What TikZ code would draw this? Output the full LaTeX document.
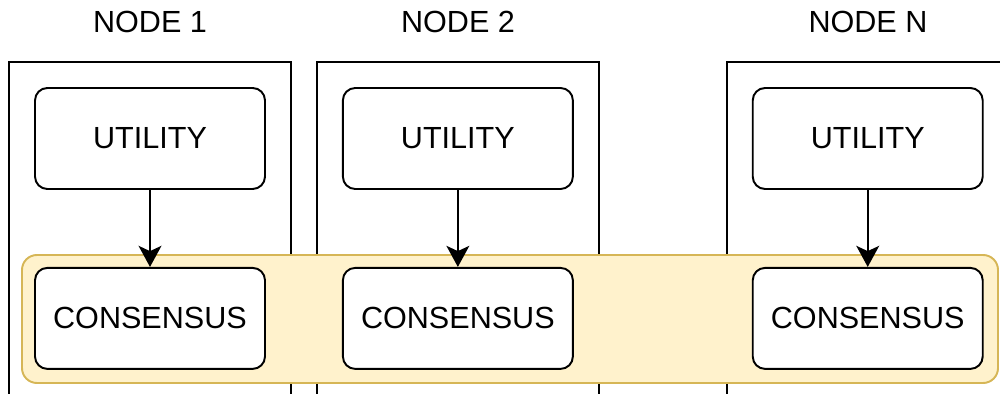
\documentclass[tikz,border=0pt]{standalone}
\usepackage{fontspec}
\setmainfont{Liberation Sans}
\usetikzlibrary{positioning,arrows.meta}

\begin{document}
\begin{tikzpicture}[
        x=0.02cm, y=-0.02cm,
        block/.style={
                rectangle,
                rounded corners=7pt,
                draw=black,
                fill=white,
                line width=1.1pt,
                minimum width=4.6cm,
                minimum height=2.02cm,
                font=\fontsize{17.4}{20}\selectfont
            },
        title/.style = {font=\fontsize{17.4}{20}\selectfont},
        frame/.style = {draw=black, line width=1.1pt},
        band/.style = {draw={rgb,255:red,214;green,182;blue,86}, fill={rgb,255:red,255;green,242;blue,204}, line width=1.1pt, rounded corners=8.5pt},
        >={Stealth[length=12pt,width=13pt,inset=3pt]}
    ]
    \clip (0,0) rectangle (1000,394);

    % node frames, open at the bottom
    \draw[frame] (9,400) |- (291,62) -- (291,400);
    \draw[frame] (317,400) |- (599,62) -- (599,400);
    \draw[frame] (727,400) |- (1010,62);

    % shared consensus layer
    \draw[band] (22,255) rectangle (998,383);

    \node[block] (util1) at (150,138.5) {UTILITY};
    \node[block] (util2) [right=1.52cm of util1] {UTILITY};
    \node[block] (utiln) [right=3.56cm of util2] {UTILITY};

    \node[block] (cons1) [below=1.54cm of util1] {CONSENSUS};
    \node[block] (cons2) [below=1.54cm of util2] {CONSENSUS};
    \node[block] (consn) [below=1.54cm of utiln] {CONSENSUS};

    \node[title] (name1) at (150,22) {NODE 1};
    \node[title] (name2) at (458,22) {NODE 2};
    \node[title] (namen) at (868,22) {NODE N};

    \draw[->, line width=1.1pt] (util1) -- (cons1);
    \draw[->, line width=1.1pt] (util2) -- (cons2);
    \draw[->, line width=1.1pt] (utiln) -- (consn);
\end{tikzpicture}
\end{document}
